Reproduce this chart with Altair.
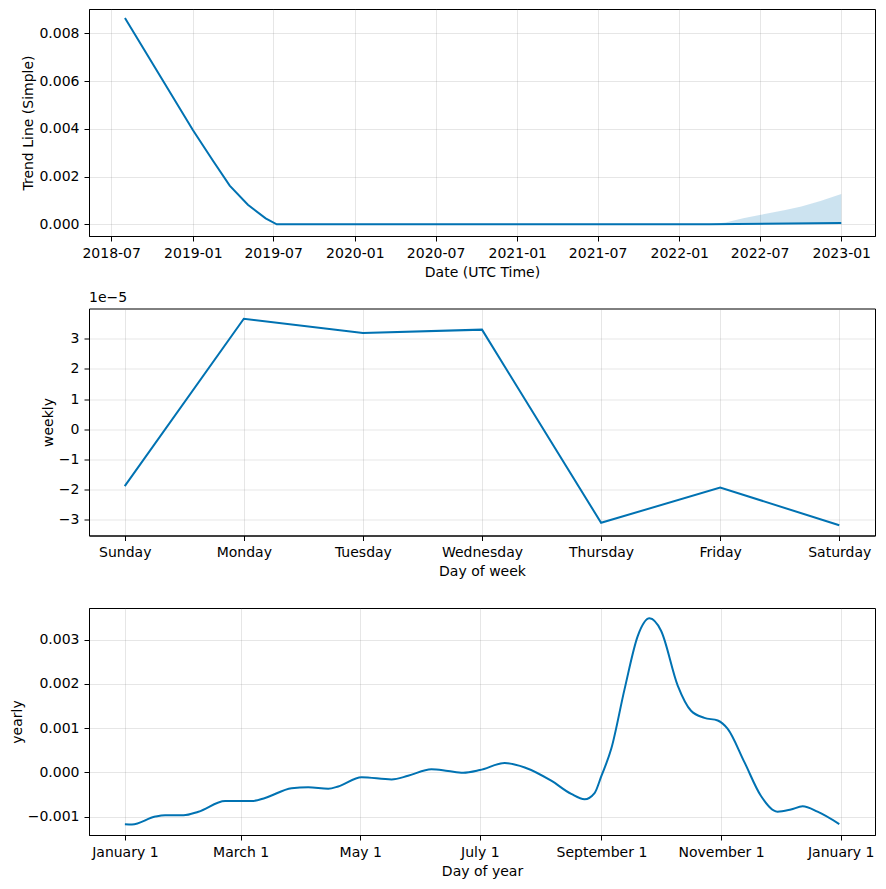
import altair as alt
import pandas as pd

# ---------------- data ----------------
trend_dates = ["2018-08-01", "2019-01-01", "2019-02-15", "2019-03-25", "2019-05-05",
               "2019-06-14", "2019-07-09", "2022-03-10", "2023-01-01"]
trend_vals = [0.00864, 0.00395, 0.00267, 0.00162, 0.00082, 0.00025, 0.0, 0.0, 0.00005]

band_dates = ["2022-03-10", "2022-04-15", "2022-05-25", "2022-07-01", "2022-08-28",
              "2022-10-03", "2022-11-15", "2023-01-01"]
band_lower = [0.0, 0.0, 0.0, 0.0, 0.0, 0.0, 0.0, 0.0]
band_upper = [0.0, 0.00008, 0.00025, 0.00039, 0.0006, 0.00075, 0.00098, 0.00127]

week_days = ["Sunday", "Monday", "Tuesday", "Wednesday", "Thursday", "Friday", "Saturday"]
weekly_vals = [-1.886e-5, 3.66e-5, 3.19e-5, 3.30e-5, -3.10e-5, -1.93e-5, -3.18e-5]

year_days = [0, 3.6, 15.5, 20.5, 29.9, 37.5, 51.1, 64.7, 71.5, 85, 93.5, 103.7, 108.8,
             120.7, 136, 144.4, 156.3, 164.8, 172.5, 181, 193.7, 203.9, 217.4, 227.6,
             234.4, 239.5, 243, 248, 254.8, 261.6, 267.5, 273.4, 281.9, 288.7, 295.5,
             302.3, 307.4, 315.9, 324.3, 332.8, 339.6, 345.6, 353.2, 364.3]
yearly_vals = [-1.175e-3, -1.18e-3, -1.00e-3, -0.97e-3, -0.97e-3, -0.89e-3, -0.65e-3,
               -0.65e-3, -0.58e-3, -0.36e-3, -0.34e-3, -0.37e-3, -0.32e-3, -0.11e-3,
               -0.16e-3, -0.08e-3, 0.07e-3, 0.03e-3, -0.01e-3, 0.05e-3, 0.21e-3, 0.11e-3,
               -0.19e-3, -0.49e-3, -0.61e-3, -0.47e-3, -0.08e-3, 0.53e-3, 1.88e-3,
               3.09e-3, 3.48e-3, 3.20e-3, 1.96e-3, 1.39e-3, 1.23e-3, 1.17e-3, 0.98e-3,
               0.23e-3, -0.53e-3, -0.89e-3, -0.84e-3, -0.77e-3, -0.89e-3, -1.17e-3]

month_ticks = [0, 59, 120, 181, 243, 304, 365]
month_labels = ["January 1", "March 1", "May 1", "July 1", "September 1", "November 1", "January 1"]

date_ticks = [(2018, 7), (2019, 1), (2019, 7), (2020, 1), (2020, 7), (2021, 1),
              (2021, 7), (2022, 1), (2022, 7), (2023, 1)]

BLUE = "#0072B2"
W, H = 786, 227

trend_df = pd.DataFrame({"ds": trend_dates, "trend": trend_vals})
band_df = pd.DataFrame({"ds": band_dates, "lo": band_lower, "hi": band_upper})
week_df = pd.DataFrame({"i": list(range(7)), "day": week_days, "weekly": weekly_vals})
year_df = pd.DataFrame({"doy": year_days, "yearly": yearly_vals})

day_arr = "[" + ",".join("'%s'" % d for d in week_days) + "]"
mon_arr = "[" + ",".join("'%s'" % m for m in month_labels) + "]"
mon_pos = "[" + ",".join(str(v) for v in month_ticks) + "]"

# ---------------- trend panel ----------------
xdate = alt.X(
    "ds:T",
    scale=alt.Scale(type="utc", domain=[alt.DateTime(year=2018, month=5, date=12, utc=True),
                                        alt.DateTime(year=2023, month=3, date=18, utc=True)]),
    axis=alt.Axis(values=[alt.DateTime(year=y, month=m, date=1, utc=True) for y, m in date_ticks],
                  labelExpr="utcFormat(datum.value, '%Y-%m')", title="Date (UTC Time)"),
)
ytrend = alt.Scale(domain=[-0.00049, 0.00902], nice=False, zero=False)

band = alt.Chart(band_df).mark_area(color=BLUE, opacity=0.2).encode(
    x=xdate,
    y=alt.Y("lo:Q", scale=ytrend),
    y2="hi:Q",
)
tline = alt.Chart(trend_df).mark_line(color=BLUE, strokeWidth=2).encode(
    x=xdate,
    y=alt.Y("trend:Q", scale=ytrend,
            axis=alt.Axis(values=[0, 0.002, 0.004, 0.006, 0.008], format=".3f",
                          title="Trend Line (Simple)")),
)
top = alt.layer(band, tline).properties(width=W, height=H)

# ---------------- weekly panel ----------------
wline = alt.Chart(week_df).mark_line(color=BLUE, strokeWidth=2).encode(
    x=alt.X("i:Q", scale=alt.Scale(domain=[-0.3, 6.3], nice=False, zero=False),
            axis=alt.Axis(values=list(range(7)), title="Day of week",
                          labelExpr=day_arr + "[datum.value]")),
    y=alt.Y("weekly:Q", scale=alt.Scale(domain=[-3.52e-5, 4.0e-5], nice=False, zero=False),
            axis=alt.Axis(values=[-3e-5, -2e-5, -1e-5, 0, 1e-5, 2e-5, 3e-5],
                          labelExpr="format(datum.value*100000, '.0f')", title="weekly")),
)
offset_txt = alt.Chart(pd.DataFrame({"t": ["1e\u22125"]})).mark_text(
    align="left", baseline="bottom", fontSize=14, font="DejaVu Sans", color="black"
).encode(x=alt.value(0), y=alt.value(-4), text="t:N")
mid = alt.layer(wline, offset_txt).properties(width=W, height=H)

# ---------------- yearly panel ----------------
yline = alt.Chart(year_df).mark_line(color=BLUE, strokeWidth=2, interpolate="monotone").encode(
    x=alt.X("doy:Q", scale=alt.Scale(domain=[-18.3, 382.5], nice=False, zero=False),
            axis=alt.Axis(values=month_ticks, title="Day of year",
                          labelExpr=mon_arr + "[indexof(" + mon_pos + ", datum.value)]")),
    y=alt.Y("yearly:Q", scale=alt.Scale(domain=[-0.001417, 0.003713], nice=False, zero=False),
            axis=alt.Axis(values=[-0.001, 0, 0.001, 0.002, 0.003], format=".3f", title="yearly")),
)
bot = yline.properties(width=W, height=H)

chart = alt.vconcat(top, mid, bot, spacing=72.5, bounds="flush").properties(
    padding={"left": 1, "top": 0, "right": 0, "bottom": 0}
).configure_view(
    stroke="black", strokeWidth=1
).configure_axis(
    labelFont="DejaVu Sans", titleFont="DejaVu Sans", labelFontSize=14, titleFontSize=14,
    titleFontWeight="normal", labelColor="black", titleColor="black",
    domainColor="black", tickColor="black", tickSize=5, labelPadding=5,
    gridColor="gray", gridOpacity=0.2, gridWidth=1, titlePadding=3,
).configure_axisX(
    titlePadding=5
)

chart.save("out.html", embed_options={"renderer": "svg", "actions": False})
